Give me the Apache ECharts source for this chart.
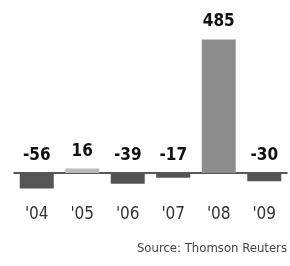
<!DOCTYPE html>
<html>
<head>
<meta charset="utf-8">
<script src="https://cdn.jsdelivr.net/npm/echarts@6/dist/echarts.min.js"></script>
<style>
  html, body { margin: 0; padding: 0; background: #fff; }
  #chart { width: 290px; height: 266px; }
</style>
</head>
<body>
<div id="chart"></div>
<script>
// yearly values, '04 - '09
const years = ["'04", "'05", "'06", "'07", "'08", "'09"];
const values = [-56, 16, -39, -17, 485, -30];

const font = '"DejaVu Sans", sans-serif';

const barColor = (v) => {
  if (v > 100) return '#8c8c8c';
  if (v > 0) return '#b9b9b9';
  return '#555';
};

const chart = echarts.init(document.getElementById('chart'));

chart.setOption({
  animation: false,
  backgroundColor: '#fff',
  grid: { left: 14, right: 3, top: 39.5, bottom: 76.5 },
  xAxis: {
    type: 'category',
    data: years,
    axisLine: { onZero: true, lineStyle: { color: '#222', width: 1.5 } },
    axisTick: { show: false },
    axisLabel: {
      interval: 0,
      color: '#333',
      fontFamily: font,
      fontWeight: 'normal condensed',
      fontSize: 17,
      margin: 17
    }
  },
  yAxis: {
    type: 'value',
    min: -60,
    max: 485,
    show: false,
    splitLine: { show: false }
  },
  series: [
    {
      type: 'bar',
      barWidth: 34,
      data: values.map((v) => ({
        value: v,
        itemStyle: { color: barColor(v) }
      })),
      label: {
        show: true,
        position: 'top',
        distance: 9,
        color: '#111',
        fontFamily: font,
        fontWeight: 'bold condensed',
        fontSize: 17
      }
    }
  ],
  graphic: [
    {
      type: 'text',
      right: 3,
      top: 242,
      style: {
        text: 'Source: Thomson Reuters',
        fill: '#444',
        font: 'normal condensed 13px ' + font
      }
    }
  ]
});
</script>
</body>
</html>
